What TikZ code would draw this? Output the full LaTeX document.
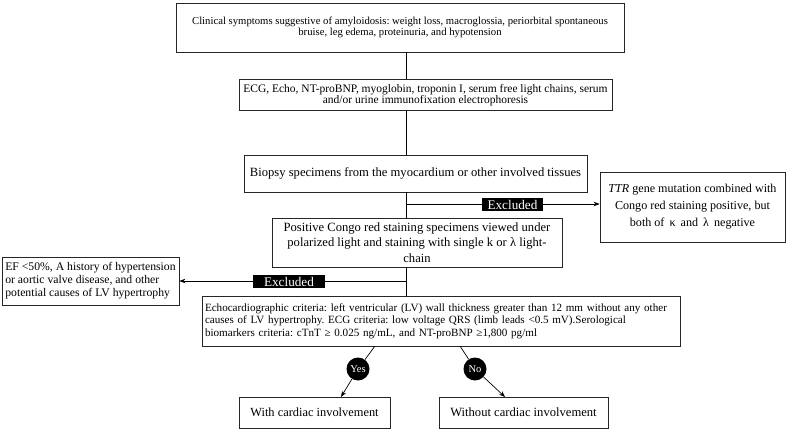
\documentclass[tikz,border=0pt]{standalone}
\usepackage{fontspec}
\setmainfont{Liberation Serif}
\usetikzlibrary{arrows.meta}
\frenchspacing
\begin{document}
\begin{tikzpicture}[x=1pt,y=-1pt,
  box/.style={draw=black!85,line width=0.8pt,inner sep=2pt,align=center},
  excl/.style={fill=black,text=white,inner sep=0pt,font=\fontsize{13.2}{13}\selectfont,minimum height=12.5pt},
  yn/.style={circle,fill=black,text=white,inner sep=0pt,minimum size=23pt,font=\fontsize{10.5}{11}\selectfont},
  link/.style={line width=0.7pt,black},
  arr/.style={link,-{Stealth[length=6pt,width=4.5pt]}}]
\useasboundingbox (0,0) rectangle (787,433);
\coordinate (t) at (406.5,0);
\node[box,minimum width=448pt,minimum height=49pt,font=\fontsize{10.7}{11.5}\selectfont] (b1) at (400,27.5)
  {Clinical symptoms suggestive of amyloidosis: weight loss, macroglossia, periorbital spontaneous\\bruise, leg edema, proteinuria, and hypotension};
\node[box,minimum width=373pt,minimum height=31pt,font=\fontsize{11.5}{11.5}\selectfont] (b2) at (425.5,95)
  {ECG, Echo, NT-proBNP, myoglobin, troponin I, serum free light chains, serum\\and/or urine immunofixation electrophoresis};
\node[box,minimum width=343pt,minimum height=37pt,font=\fontsize{12.6}{13}\selectfont] (b3) at (415.5,173.5)
  {Biopsy specimens from the myocardium or other involved tissues};
\node[box,minimum width=185pt,minimum height=70pt,font=\fontsize{12.1}{17}\selectfont] (ttr) at (692.5,207)
  {\textit{TTR} gene mutation combined with\\Congo red staining positive, but\\both of \,κ\, and \,λ\, negative};
\node[box,minimum width=290pt,minimum height=49pt,font=\fontsize{12.6}{15.5}\selectfont] (b4) at (417,242.5)
  {Positive Congo red staining specimens viewed under\\polarized light and staining with single k or λ light-\\chain};
\node[box,minimum width=177pt,minimum height=48pt,align=left,font=\fontsize{11.7}{13}\selectfont] (ef) at (90.5,281)
  {EF <50\%, A history of hypertension\\or aortic valve disease, and other\\potential causes of LV hypertrophy};
\node[box,minimum width=478pt,minimum height=50pt,text width=472pt,align=left,font=\fontsize{11.1}{12.5}\selectfont] (b5) at (441,321)
  {Echocardiographic criteria: left ventricular (LV) wall thickness greater than 12 mm without any other\\causes of LV hypertrophy. ECG criteria: low voltage QRS (limb leads <0.5 mV).Serological\\biomarkers criteria: cTnT ≥ 0.025 ng/mL, and NT-proBNP ≥1,800 pg/ml};
\node[box,minimum width=151pt,minimum height=31pt,font=\fontsize{12.4}{13}\selectfont] (b6) at (314.5,412.5) {With cardiac involvement};
\node[box,minimum width=169pt,minimum height=31pt,font=\fontsize{12.6}{13}\selectfont] (b7) at (523.5,412.5) {Without cardiac involvement};
\node[yn] (yes) at (358,369) {Yes};
\node[yn] (no) at (475,369) {No};
% trunk
\draw[link] (b1.south -| t) -- (b2.north -| t);
\draw[link] (b2.south -| t) -- (b3.north -| t);
\draw[link] (b3.south -| t) -- (b4.north -| t);
\draw[link] (b4.south -| t) -- (b5.north -| t);
% excluded branches
\coordinate (j1) at (406.5,204);
\coordinate (j2) at (406.5,281);
\draw[arr] (j1) -- (ttr.west |- j1);
\draw[arr] (j2) -- (ef.east |- j2);
\node[excl,minimum width=61pt] (e1) at (512.5,204.5) {Excluded};
\node[excl,minimum width=72pt] (e2) at (289,281.5) {Excluded};
% yes / no
\coordinate (ya) at (375,346);
\coordinate (na) at (460,346);
\coordinate (yb) at (341,397);
\coordinate (nb) at (505,397);
\draw[link] (ya) -- (yes);
\draw[link] (na) -- (no);
\draw[arr] (yes) -- (yb);
\draw[arr] (no) -- (nb);
\end{tikzpicture}
\end{document}
